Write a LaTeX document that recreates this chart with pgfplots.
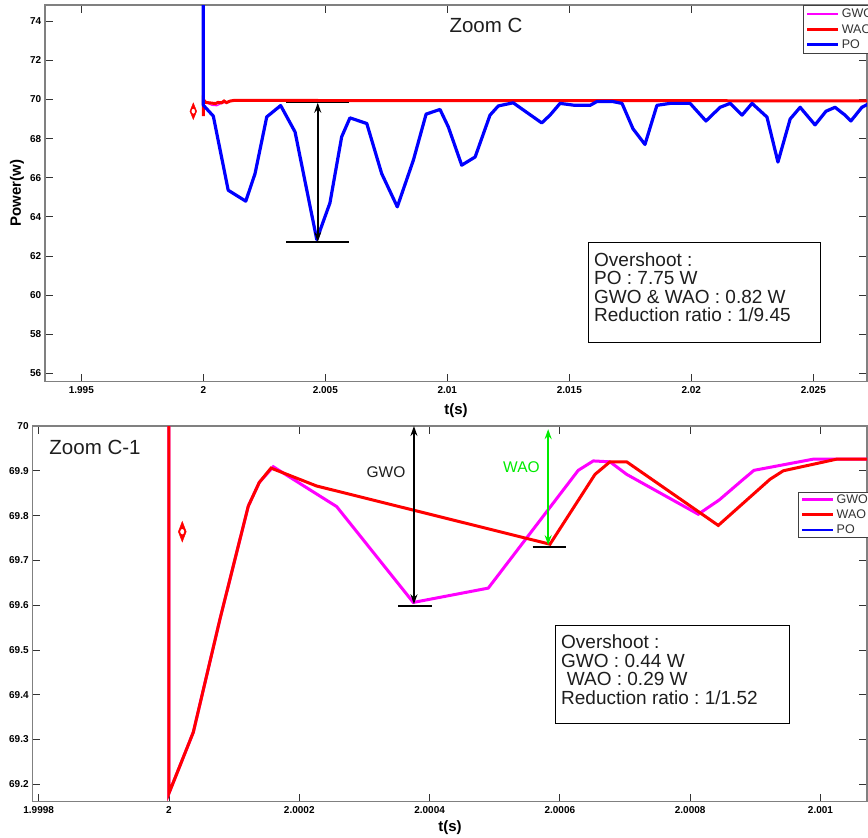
\documentclass[border=0pt]{standalone}
\usepackage{pgfplots}
\pgfplotsset{compat=1.18}
\usepackage{fontspec}
\setmainfont{Liberation Sans}
\usetikzlibrary{arrows.meta}

\definecolor{gwo}{RGB}{255,0,255}
\definecolor{wao}{RGB}{255,0,0}
\definecolor{po}{RGB}{0,0,255}
\definecolor{wgreen}{RGB}{0,235,0}
\definecolor{txt}{RGB}{30,30,30}

\pgfplotsset{
  panel/.style={
    scale only axis,
    clip=true,
    axis line style={draw=black!50, line width=1.1bp},
    tick align=inside,
    major tick length=8bp,
    tick style={black!80, line width=0.8bp},
    tick label style={font=\bfseries\fontsize{10bp}{12bp}\selectfont, text=black},
    /pgf/number format/assume math mode=true,
    yticklabel style={inner sep=0pt, xshift=-3.5bp},
    xticklabel style={inner sep=0pt, yshift=-4.5bp},
    legend cell align=left,
    legend style={draw=black!75, line width=0.8bp, fill=white,
      font=\fontsize{12.5bp}{13bp}\selectfont, text=black!80,
      inner xsep=2bp, inner ysep=1.5bp, row sep=1.2bp},
    legend image code/.code={\draw[##1] (0bp,0bp) -- (31bp,0bp);},
  },
}
\tikzset{
  dblarrow/.style={line width=1.5bp,
    {Stealth[length=10bp,width=7bp]}-{Stealth[length=10bp,width=7bp]}},
  boxtext/.style={anchor=base west, inner sep=0pt, text=txt,
    font=\fontsize{19bp}{19bp}\selectfont},
}

\begin{document}
\frenchspacing
\begin{tikzpicture}
\useasboundingbox (0bp,0bp) rectangle (868bp,-838bp);
\clip (0bp,0bp) rectangle (868bp,-838bp);

% ---------------- Zoom C : t in ms after the 2 s step ----------------
\begin{axis}[panel,
  at={(45bp,-381.7bp)}, anchor=south west,
  width=822bp, height=376.7bp,
  xmin=-6.488, xmax=27.2, ymin=55.57, ymax=74.83,
  xtick={-5,0,5,10,15,20,25},
  xticklabels={1.995,2,2.005,2.01,2.015,2.02,2.025},
  ytick={56,58,60,62,64,66,68,70,72,74},
  legend style={at={(rel axis cs:0.9225,1)}, anchor=north west},
]
\addplot[color=gwo, line width=1.2bp] coordinates {
 (0,69.2) (0,70.0) (0.15,69.82) (0.35,69.70) (0.55,69.68) (0.75,69.80)
 (0.95,69.86) (1.2,69.93) (27.5,69.93)};
\addplot[color=wao, line width=3bp] coordinates {
 (0,69.15) (0,70.0) (0.1,69.85) (0.3,69.82) (0.5,69.79) (0.6,69.85)
 (0.75,69.83) (0.85,69.92) (0.95,69.84) (1.1,69.92) (1.25,69.95) (27.5,69.93)};
\addplot[color=po, line width=3.2bp, line join=round] coordinates {
 (0,80) (0,69.71) (0.41,69.15) (1.02,65.36) (1.74,64.80) (2.12,66.21)
 (2.60,69.11) (3.17,69.69) (3.76,68.34) (4.65,62.84) (5.19,64.71)
 (5.67,68.09) (6.01,69.06) (6.70,68.77) (7.31,66.21) (7.95,64.51)
 (8.61,66.90) (9.13,69.25) (9.70,69.49) (10.04,68.60) (10.59,66.64)
 (11.14,67.06) (11.75,69.20) (12.09,69.67) (12.70,69.83) (13.87,68.80)
 (14.21,69.20) (14.62,69.80) (15.23,69.70) (15.85,69.70) (16.14,69.90)
 (16.75,69.90) (17.16,69.80) (17.61,68.50) (18.10,67.70) (18.59,69.70)
 (19.13,69.80) (19.95,69.80) (20.60,68.90) (21.18,69.60) (21.59,69.80)
 (22.08,69.20) (22.49,69.80) (23.10,69.10) (23.55,66.80) (24.05,69.00)
 (24.46,69.60) (25.07,68.70) (25.52,69.40) (25.89,69.60) (26.30,69.20)
 (26.54,68.90) (26.99,69.60) (27.30,69.80)};
\legend{GWO,WAO,PO}
% data cursor
\addplot[forget plot, only marks, mark=diamond*, mark size=4.5bp,
  mark options={fill=wao, draw=wao, yscale=1.85}] coordinates {(-0.41,69.40)};
\addplot[forget plot, only marks, mark=*, mark size=1.5bp,
  mark options={fill=white, draw=white, yscale=1.4}] coordinates {(-0.41,69.40)};
% overshoot of PO
\addplot[forget plot, black, line width=1.4bp] coordinates {(3.39,69.83) (5.99,69.83)};
\addplot[forget plot, black, line width=1.4bp] coordinates {(3.39,62.72) (5.99,62.72)};
\draw[black, dblarrow] (axis cs:4.69,69.83) -- (axis cs:4.69,62.72);
\end{axis}

% ---------------- Zoom C-1 : t in units of 0.1 ms after 2 s ----------------
\begin{axis}[panel,
  at={(32.3bp,-801.7bp)}, anchor=south west,
  width=834.7bp, height=375.7bp,
  xmin=-2.098, xmax=10.714, ymin=69.161, ymax=70,
  xtick={-2,0,2,4,6,8,10},
  xticklabels={1.9998,2,2.0002,2.0004,2.0006,2.0008,2.001},
  ytick={69.2,69.3,69.4,69.5,69.6,69.7,69.8,69.9,70},
  yticklabel style={/pgf/number format/fixed, /pgf/number format/precision=1},
  legend style={at={(rel axis cs:0.9177,0.8236)}, anchor=north west,
    row sep=0.8bp, inner ysep=0bp},
]
\addplot[color=gwo, line width=3bp] coordinates {
 (0,70.5) (0,69.18) (0.373,69.316) (0.783,69.569) (1.217,69.821)
 (1.386,69.874) (1.601,69.909) (2.574,69.820) (3.750,69.606)
 (4.901,69.638) (6.282,69.901) (6.513,69.922) (6.769,69.920)
 (7.025,69.892) (8.124,69.803) (8.447,69.835) (8.815,69.881)
 (8.979,69.901) (9.890,69.926) (11,69.926)};
\addplot[color=wao, line width=3bp] coordinates {
 (0,70.5) (0,69.18) (0.373,69.316) (0.783,69.569) (1.217,69.821)
 (1.386,69.874) (1.566,69.906) (2.267,69.866) (5.848,69.736)
 (6.539,69.892) (6.769,69.920) (7.025,69.920) (8.431,69.778)
 (9.225,69.881) (9.429,69.900) (10.249,69.926) (11,69.926)};
\addlegendimage{blue, line width=1.7bp}
\legend{GWO,WAO,PO}
% data cursor
\addplot[forget plot, only marks, mark=diamond*, mark size=5.3bp,
  mark options={fill=wao, draw=wao, yscale=1.95}] coordinates {(0.204,69.764)};
\addplot[forget plot, only marks, mark=*, mark size=1.7bp,
  mark options={fill=white, draw=white, yscale=1.4}] coordinates {(0.204,69.764)};
% overshoot of GWO and WAO
\addplot[forget plot, black, line width=1.4bp] coordinates {(3.52,69.598) (4.03,69.598)};
\addplot[forget plot, black, line width=1.4bp] coordinates {(5.58,69.730) (6.09,69.730)};
\draw[black, dblarrow] (axis cs:3.76,69.602) -- (axis cs:3.76,70.0);
\draw[wgreen, dblarrow] (axis cs:5.82,69.734) -- (axis cs:5.82,69.993);
\node[text=txt, font=\fontsize{15.5bp}{17bp}\selectfont] at (axis cs:3.33,69.896) {GWO};
\node[text=wgreen, font=\fontsize{15.5bp}{17bp}\selectfont] at (axis cs:5.41,69.908) {WAO};
\end{axis}

% panel titles and axis labels
\node[text=txt, font=\fontsize{20.5bp}{24bp}\selectfont] at (486bp,-25bp) {Zoom C};
\node[text=txt, font=\fontsize{20.5bp}{24bp}\selectfont] at (95bp,-447bp) {Zoom C-1};
\node[rotate=90, font=\bfseries\fontsize{15bp}{17bp}\selectfont] at (17bp,-193bp) {Power(w)};
\node[font=\bfseries\fontsize{15bp}{17bp}\selectfont] at (456bp,-411bp) {t(s)};
\node[font=\bfseries\fontsize{15bp}{17bp}\selectfont] at (450bp,-828bp) {t(s)};

% result boxes
\draw[black, line width=1bp, fill=white] (588.3bp,-242.7bp) rectangle (820bp,-342bp);
\node[boxtext] at (594bp,-266bp) {Overshoot :};
\node[boxtext] at (594bp,-284.5bp) {PO : 7.75 W};
\node[boxtext] at (594bp,-303bp) {GWO \& WAO : 0.82 W};
\node[boxtext] at (594bp,-321.5bp) {Reduction ratio : 1/9.45};

\draw[black, line width=1bp, fill=white] (555bp,-625bp) rectangle (789bp,-723bp);
\node[boxtext] at (561bp,-648.5bp) {Overshoot :};
\node[boxtext] at (561bp,-667bp) {GWO : 0.44 W};
\node[boxtext] at (561bp,-685.5bp) {\hspace*{0.3em}WAO : 0.29 W};
\node[boxtext] at (561bp,-704bp) {Reduction ratio : 1/1.52};
\end{tikzpicture}
\end{document}
